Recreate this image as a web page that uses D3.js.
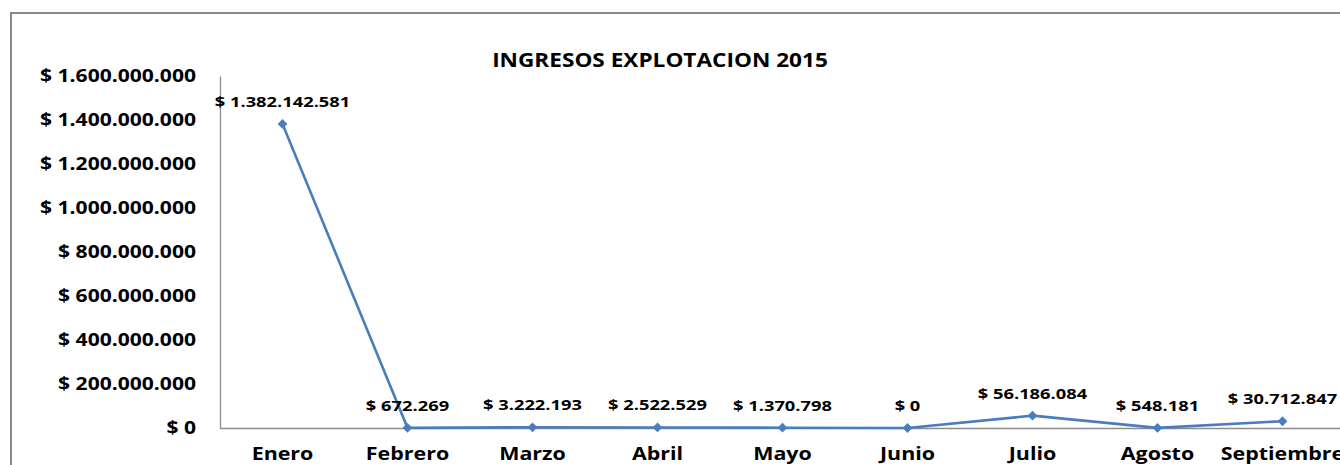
<!DOCTYPE html>
<html><head><meta charset="utf-8">
<script src="https://cdn.jsdelivr.net/npm/d3@7"></script>
<style>
html,body{margin:0;padding:0;background:#fff;}
svg text{font-family:"Open Sans",sans-serif;font-weight:700;fill:#000;}
</style></head>
<body><svg id="c" width="1340" height="465"></svg>
<script>
const months = ["Enero","Febrero","Marzo","Abril","Mayo","Junio","Julio","Agosto","Septiembre"];
const ingresos = [1382142581, 672269, 3222193, 2522529, 1370798, 0, 56186084, 548181, 30712847];
const yTicks = [0, 200000000, 400000000, 600000000, 800000000, 1000000000, 1200000000, 1400000000, 1600000000];
const title = "INGRESOS EXPLOTACION 2015";

const fmt = v => "$ " + d3.format(",")(v).replace(/,/g, ".");
const svg = d3.select("#c");

// horizontally widen glyphs (reference font is wider than available fonts)
function stretch(sel, k){
  sel.each(function(){
    const w = this.getComputedTextLength();
    d3.select(this).attr("textLength", w*k).attr("lengthAdjust","spacingAndGlyphs");
  });
}

// outer frame
svg.append("rect").attr("x",11).attr("y",13).attr("width",1340).attr("height",470)
  .attr("fill","none").attr("stroke","#8a8a8a").attr("stroke-width",2);

const x = d3.scaleBand().domain(months).range([220, 220 + 125*months.length]);
const y = d3.scaleLinear().domain([0,1600000000]).range([428,76]);

// axes
const yAxis = svg.append("g").attr("transform","translate(220,0)")
  .call(d3.axisLeft(y).tickValues(yTicks).tickSize(0).tickPadding(24).tickFormat(fmt));
yAxis.select(".domain").attr("stroke","#8c8c8c").attr("stroke-width",1.3);
yAxis.selectAll("text").style("font-size","18px");
stretch(yAxis.selectAll("text"), 1.17);

const xAxis = svg.append("g").attr("transform","translate(0,428)")
  .call(d3.axisBottom(x).tickSize(0).tickPadding(19));
xAxis.select(".domain").attr("stroke","#8c8c8c").attr("stroke-width",1.3).attr("d","M220,0.5H1340");
xAxis.selectAll("text").style("font-size","18px");
stretch(xAxis.selectAll("text"), 1.19);

// line
const cx = d => x(d) + x.bandwidth()/2;
const data = months.map((m,i)=>({m, v: ingresos[i]}));
svg.append("path").datum(data)
  .attr("fill","none").attr("stroke","#4a7ebb").attr("stroke-width",2.6)
  .attr("d", d3.line().x(d=>cx(d.m)).y(d=>y(d.v)));
svg.selectAll(".mk").data(data).enter().append("path")
  .attr("transform", d=>`translate(${cx(d.m)},${y(d.v)}) rotate(45)`)
  .attr("d", d3.symbol(d3.symbolSquare, 48))
  .attr("fill","#4a7ebb");

const lbl = svg.selectAll(".lbl").data(data).enter().append("text")
  .attr("x", d=>cx(d.m)).attr("y", d=>y(d.v)-17)
  .attr("text-anchor","middle").style("font-size","15px")
  .text(d=>fmt(d.v));
stretch(lbl, 1.22);

const t = svg.append("text").attr("x",660).attr("y",67).attr("text-anchor","middle")
  .style("font-size","20px").text(title);
stretch(t, 1.13);
</script></body></html>
